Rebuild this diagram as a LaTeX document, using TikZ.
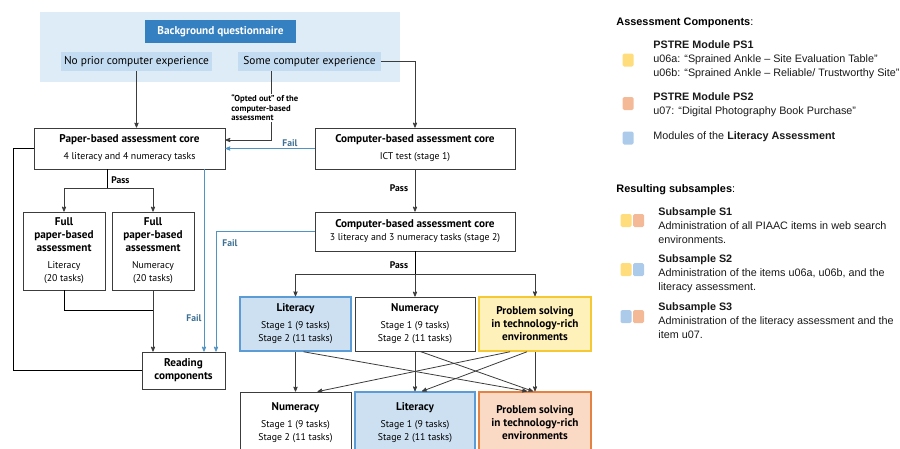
\documentclass[tikz,border=0pt]{standalone}
\usepackage{fontspec}
\setmainfont{PT Sans}
\newfontfamily\legendfont{Liberation Sans}
\usetikzlibrary{shapes, arrows, positioning}

\definecolor{bgpanel}{RGB}{222,236,247}
\definecolor{bgdark}{RGB}{52,128,192}
\definecolor{bglight}{RGB}{196,220,241}
\definecolor{failblue}{RGB}{80,148,196}
\definecolor{litfill}{RGB}{204,224,242}
\definecolor{litline}{RGB}{92,156,214}
\definecolor{psonefill}{RGB}{255,241,186}
\definecolor{psoneline}{RGB}{246,200,52}
\definecolor{pstwofill}{RGB}{250,218,196}
\definecolor{pstwoline}{RGB}{228,130,68}
\definecolor{keyyellow}{RGB}{255,221,125}
\definecolor{keyorange}{RGB}{244,186,152}
\definecolor{keyblue}{RGB}{172,202,234}
\definecolor{boxline}{RGB}{60,60,60}

\newcommand{\boxhead}[1]{{\fontsize{11.2}{13}\selectfont\bfseries #1}}

\begin{document}
\begin{tikzpicture}[x=1pt, y=-1pt, >=stealth', line width=0.8pt,
    box/.style={draw=boxline, fill=white, align=center, inner sep=0pt, font=\fontsize{9.8}{13}\selectfont},
    litbox/.style={box, draw=litline, fill=litfill, line width=1.5pt},
    psonebox/.style={box, draw=psoneline, fill=psonefill, line width=1.5pt},
    pstwobox/.style={box, draw=pstwoline, fill=pstwofill, line width=1.5pt},
    darkbox/.style={fill=bgdark, text=white, inner sep=0pt, font=\fontsize{11.3}{12}\selectfont\bfseries},
    lightbox/.style={fill=bglight, inner sep=0pt, minimum height=19, font=\fontsize{11.4}{12}\selectfont},
    arr/.style={->, draw=boxline},
    failarr/.style={->, draw=failblue},
    passlbl/.style={inner sep=0pt, font=\fontsize{9.6}{10}\selectfont\bfseries},
    faillbl/.style={passlbl, text=failblue!75!black},
    optlbl/.style={fill=white, inner sep=1pt, align=left, font=\fontsize{8.6}{9.5}\selectfont\bfseries},
    legendhead/.style={anchor=west, inner sep=0pt, font=\legendfont\fontsize{10.9}{12}\selectfont},
    legendtext/.style={anchor=north west, align=left, inner sep=0pt, text=black!90, font=\legendfont\fontsize{10.8}{13.7}\selectfont},
    keysq/.style={rounded corners=1.5pt, inner sep=0pt, minimum width=11, minimum height=13}]
    \useasboundingbox (0,0) rectangle (900,448);

    % questionnaire
    \node [fill=bgpanel, minimum width=360, minimum height=70, inner sep=0pt] (panel) at (220,47) {};
    \node [darkbox, minimum width=151, minimum height=23] (bgq) at (220.5,31.5) {Background questionnaire};
    \node [lightbox, minimum width=151] (noprior) at (136.5,61.5) {No prior computer experience};
    \node [lightbox, minimum width=143] (somecomp) at (309.5,61.5) {Some computer experience};

    % paper branch
    \node [box, minimum width=191, minimum height=41] (paper) at (129.5,148.5) {\boxhead{Paper-based assessment core}\\[4pt]4 literacy and 4 numeracy tasks};
    \node [box, minimum width=82, minimum height=78] (fulllit) at (64,251) {\boxhead{Full}\\\boxhead{paper-based}\\\boxhead{assessment}\\[4pt]Literacy\\(20 tasks)};
    \node [box, minimum width=82, minimum height=78] (fullnum) at (153,251) {\boxhead{Full}\\\boxhead{paper-based}\\\boxhead{assessment}\\[4pt]Numeracy\\(20 tasks)};
    \node [box, minimum width=83, minimum height=37] (reading) at (183.5,370.5) {\boxhead{Reading}\\\boxhead{components}};

    % computer branch
    \node [box, minimum width=200, minimum height=41] (cbaone) at (415,148.5) {\boxhead{Computer-based assessment core}\\[4pt]ICT test (stage 1)};
    \node [box, minimum width=200, minimum height=39] (cbatwo) at (415,231.5) {\boxhead{Computer-based assessment core}\\3 literacy and 3 numeracy tasks (stage 2)};

    \node [litbox, minimum width=111, minimum height=54] (litone) at (295.5,324) {\boxhead{Literacy}\\[4pt]Stage 1 (9 tasks)\\Stage 2 (11 tasks)};
    \node [box, minimum width=120, minimum height=54] (numone) at (415,324) {\boxhead{Numeracy}\\[4pt]Stage 1 (9 tasks)\\Stage 2 (11 tasks)};
    \node [psonebox, minimum width=112, minimum height=54] (psone) at (535,324) {\boxhead{Problem solving}\\\boxhead{in technology-rich}\\\boxhead{environments}};
    \node [box, minimum width=111, minimum height=62] (numtwo) at (295.5,423) {\boxhead{Numeracy}\\[4pt]Stage 1 (9 tasks)\\Stage 2 (11 tasks)};
    \node [litbox, minimum width=120, minimum height=62] (littwo) at (415,423) {\boxhead{Literacy}\\[4pt]Stage 1 (9 tasks)\\Stage 2 (11 tasks)};
    \node [pstwobox, minimum width=112, minimum height=62] (pstwo) at (535,423) {\boxhead{Problem solving}\\\boxhead{in technology-rich}\\\boxhead{environments}};

    % connectors
    \coordinate (optout) at (271,140);
    \coordinate (passsplit) at (107,188);
    \coordinate (join) at (153,310);
    \coordinate (leftcorner) at (13,370.5);
    \coordinate (faila) at (204,300);
    \coordinate (failb) at (216,231.5);
    \coordinate (split) at (415,274);

    \draw [arr] (noprior.south) -- (noprior.south |- paper.north);
    \draw [arr] (somecomp.east) -| (cbaone.north);
    \draw [arr] (somecomp.south -| optout) -- (optout) -- (optout -| paper.east);
    \node [optlbl, anchor=north west] (opted) at (230,93.5) {“Opted out” of the\\computer-based\\assessment};
    \draw [failarr] (cbaone.west) -- (cbaone.west -| paper.east);
    \node [faillbl] (failone) at (290,143) {Fail};

    \draw (paper.south -| passsplit) -- (passsplit);
    \node [passlbl, anchor=west] (passone) at (111,180) {Pass};
    \draw [arr] (passsplit) -| (fulllit.north);
    \draw [arr] (passsplit) -| (fullnum.north);
    \draw (fulllit.south) |- (join);
    \draw [arr] (fullnum.south) -- (fullnum.south |- reading.north);
    \draw (paper.west) -| (leftcorner) -- (reading.west);
    \draw [failarr] (paper.south -| faila) -- (reading.north -| faila);
    \node [faillbl] (failtwo) at (194,318) {Fail};
    \draw [failarr] (cbatwo.west) -- (failb) -- (reading.north -| failb);
    \node [faillbl] (failthree) at (230,243) {Fail};

    \draw [arr] (cbaone) -- (cbatwo);
    \node [passlbl] (passtwo) at (399,188) {Pass};
    \draw (cbatwo.south) -- (split);
    \node [passlbl] (passthree) at (399,265) {Pass};
    \draw [arr] (split) -| (litone.north);
    \draw [arr] (split) -- (numone.north);
    \draw [arr] (split) -| (psone.north);

    \draw [arr] (litone) -- (numtwo);
    \draw [arr] (numone) -- (littwo);
    \draw [arr] (psone) -- (pstwo);
    \draw [arr] ([xshift=8]litone.south) -- ([xshift=-8]pstwo.north);
    \draw [arr] ([xshift=5]numone.south) -- ([xshift=-2]pstwo.north);
    \draw [arr] ([xshift=-25]psone.south) -- ([xshift=22]numtwo.north);
    \draw [arr] ([xshift=-8]psone.south) -- ([xshift=7]littwo.north);

    % legend
    \node [legendhead] (comphead) at (616,23) {\textbf{Assessment Components}:};
    \node [keysq, fill=keyyellow] (keypsone) at (628,60) {};
    \node [legendtext] (psonetxt) at (653,40.5) {\textbf{PSTRE Module PS1}\\u06a: “Sprained Ankle – Site Evaluation Table”\\u06b: “Sprained Ankle – Reliable/ Trustworthy Site”};
    \node [keysq, fill=keyorange] (keypstwo) at (628,103.5) {};
    \node [legendtext] (pstwotxt) at (653,92.5) {\textbf{PSTRE Module PS2}\\u07: “Digital Photography Book Purchase”};
    \node [keysq, fill=keyblue] (keylit) at (628,138) {};
    \node [legendtext, anchor=west] (littxt) at (653,137) {Modules of the \textbf{Literacy Assessment}};

    \node [legendhead] (subhead) at (616,190) {\textbf{Resulting subsamples}:};
    \node [keysq, fill=keyyellow] (keysonea) at (626,220.5) {};
    \node [keysq, fill=keyorange] (keysoneb) at (638.5,220.5) {};
    \node [legendtext] (sonetxt) at (658,207.5) {\textbf{Subsample S1}\\Administration of all PIAAC items in web search\\environments.};
    \node [keysq, fill=keyyellow] (keystwoa) at (626,269.5) {};
    \node [keysq, fill=keyblue] (keystwob) at (638.5,269.5) {};
    \node [legendtext] (stwotxt) at (658,254.5) {\textbf{Subsample S2}\\Administration of the items u06a, u06b, and the\\literacy assessment.};
    \node [keysq, fill=keyblue] (keysthreea) at (626,316.5) {};
    \node [keysq, fill=keyorange] (keysthreeb) at (638.5,316.5) {};
    \node [legendtext] (sthreetxt) at (658,302.5) {\textbf{Subsample S3}\\Administration of the literacy assessment and the\\item u07.};
\end{tikzpicture}
\end{document}
